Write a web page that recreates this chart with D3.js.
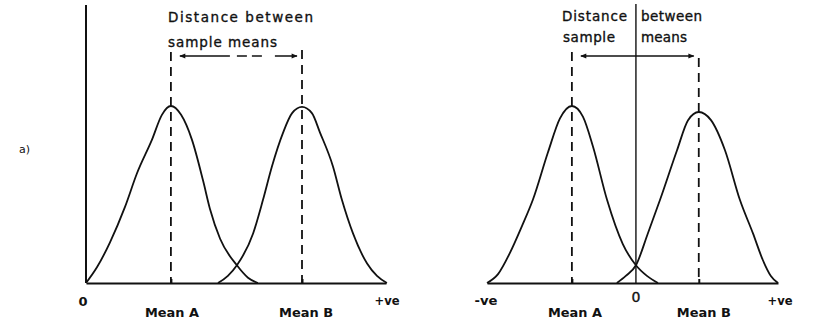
<!DOCTYPE html>
<html>
<head>
<meta charset="utf-8">
<script src="https://cdn.jsdelivr.net/npm/d3@7/dist/d3.min.js"></script>
<style>
  body { margin: 0; background: #fff; }
  svg { display: block; }
  text { font-family: "DejaVu Sans", sans-serif; fill: #111; }
  text.title { stroke: #111; stroke-width: 0.35px; }
</style>
</head>
<body>
<svg id="chart" width="813" height="323"></svg>
<script>
// ---- Panel (a): both sample means lie above zero ----
const panelALabel = "a)";
const leftAxisLabels = ["0", "+ve"];
const leftMeanLabels = ["Mean A", "Mean B"];
const leftTitle = ["Distance between", "sample means"];
const leftMeans = [2.83, 7.2];
const leftExtent = [0, 10];
// density curves as [x, relative height]
const leftCurveA = [
  [0.00, 0], [0.37, 0.09], [0.80, 0.23], [1.30, 0.43], [1.70, 0.62],
  [2.20, 0.81], [2.53, 0.95], [2.83, 1.00], [3.17, 0.95], [3.53, 0.81],
  [3.90, 0.58], [4.13, 0.42], [4.47, 0.25], [5.03, 0.10], [5.40, 0.03], [5.73, 0]
];
const leftCurveB = [
  [4.40, 0], [4.73, 0.04], [5.03, 0.10], [5.57, 0.28], [5.90, 0.47],
  [6.20, 0.66], [6.57, 0.85], [6.87, 0.96], [7.20, 0.995], [7.53, 0.96],
  [7.80, 0.85], [8.23, 0.66], [8.53, 0.47], [8.90, 0.28], [9.37, 0.11],
  [9.70, 0.04], [10.03, 0]
];

// ---- Panel (b): the means straddle zero ----
const rightAxisLabels = ["-ve", "0", "+ve"];
const rightMeanLabels = ["Mean A", "Mean B"];
const rightTitle = [["Distance", "between"], ["sample", "means"]];
const rightMeans = [-2.15, 2.11];
const rightExtent = [-5, 4.77];
const rightCurveA = [
  [-5.00, 0], [-4.63, 0.05], [-4.23, 0.17], [-3.83, 0.32], [-3.46, 0.47],
  [-2.95, 0.74], [-2.55, 0.93], [-2.15, 1.00], [-1.78, 0.94], [-1.44, 0.77],
  [-0.97, 0.47], [-0.44, 0.22], [0.00, 0.10], [0.37, 0.04], [0.74, 0]
];
const rightCurveB = [
  [-0.64, 0], [-0.34, 0.04], [0.00, 0.10], [0.40, 0.28], [0.81, 0.47],
  [1.38, 0.75], [1.75, 0.92], [2.11, 0.966], [2.52, 0.92], [2.99, 0.75],
  [3.49, 0.47], [3.93, 0.28], [4.26, 0.13], [4.53, 0.04], [4.77, 0]
];

const svg = d3.select("#chart");
const ink = "#111";

const y = d3.scaleLinear().domain([0, 1]).range([283, 106]);
const xL = d3.scaleLinear().domain(leftExtent).range([86, 386]);
const xR = d3.scaleLinear().domain(rightExtent).range([487, 778]);

// arrowheads for the "distance" indicator
const defs = svg.append("defs");
["start", "end"].forEach(k => {
  defs.append("marker")
    .attr("id", "head-" + k)
    .attr("viewBox", "0 0 10 10")
    .attr("refX", k === "end" ? 9 : 1).attr("refY", 5)
    .attr("markerWidth", 7).attr("markerHeight", 6)
    .attr("markerUnits", "userSpaceOnUse")
    .attr("orient", "auto")
    .append("path")
    .attr("d", k === "end" ? "M0,1 L10,5 L0,9 Z" : "M10,1 L0,5 L10,9 Z")
    .attr("fill", ink);
});

// monotone interpolation keeps the peaks rounded and the tails smooth
const line = x => d3.line()
  .x(d => x(d[0])).y(d => y(d[1]))
  .curve(d3.curveMonotoneX);

function drawPanel(g, x, opts) {
  // baseline with small ticks under each mean
  const axis = d3.axisBottom(x)
    .tickValues(opts.means).tickSize(-4).tickSizeOuter(0).tickFormat("");
  const ax = g.append("g").attr("transform", `translate(0,${y(0)})`).call(axis);
  ax.select(".domain").attr("stroke", ink).attr("stroke-width", 2);
  ax.selectAll(".tick line").attr("stroke", ink).attr("stroke-width", 2);

  // vertical axis through zero
  g.append("line")
    .attr("x1", x(0)).attr("x2", x(0))
    .attr("y1", opts.axisTop).attr("y2", y(0))
    .attr("stroke", ink).attr("stroke-width", opts.axisWidth);

  // dashed guides from each mean up to the distance arrow
  opts.means.forEach((m, i) => {
    g.append("line")
      .attr("x1", x(m)).attr("x2", x(m))
      .attr("y1", opts.guideTop[i]).attr("y2", y(0))
      .attr("stroke", ink).attr("stroke-width", 1.8)
      .attr("stroke-dasharray", "9,6");
  });

  // the two sampling distributions
  [opts.curveA, opts.curveB].forEach(c => {
    g.append("path").datum(c)
      .attr("d", line(x))
      .attr("fill", "none").attr("stroke", ink).attr("stroke-width", 1.8);
  });

  // distance arrow between the means
  g.append("line")
    .attr("x1", x(opts.means[0]) + 9).attr("x2", x(opts.means[1]) - 5)
    .attr("y1", 56).attr("y2", 56)
    .attr("stroke", ink).attr("stroke-width", 1.6)
    .attr("stroke-dasharray", opts.arrowDash)
    .attr("marker-start", "url(#head-start)")
    .attr("marker-end", "url(#head-end)");

  // mean labels
  opts.meanLabels.forEach((t, i) => {
    g.append("text")
      .attr("x", x(opts.means[i]) + opts.meanDx[i]).attr("y", 317)
      .attr("text-anchor", "middle")
      .attr("font-size", 13).attr("font-weight", "bold")
      .attr("textLength", 54).attr("lengthAdjust", "spacingAndGlyphs")
      .text(t);
  });
}

// panel (a)
const gL = svg.append("g");
drawPanel(gL, xL, {
  means: leftMeans, curveA: leftCurveA, curveB: leftCurveB,
  axisTop: 5, axisWidth: 2, guideTop: [52, 50],
  arrowDash: "50,7,10,5,10,13,40", meanLabels: leftMeanLabels, meanDx: [1, 4]
});
gL.append("text").attr("x", xL(0) - 3).attr("y", 306).attr("text-anchor", "middle")
  .attr("font-size", 13).attr("font-weight", "bold").text(leftAxisLabels[0]);
gL.append("text").attr("x", xL(10) + 1).attr("y", 305).attr("text-anchor", "middle")
  .attr("font-size", 12).attr("font-weight", "bold")
  .attr("textLength", 25).attr("lengthAdjust", "spacingAndGlyphs").text(leftAxisLabels[1]);
gL.append("text").attr("class", "title").attr("x", 168).attr("y", 22).attr("font-size", 13.5)
  .attr("textLength", 145).attr("lengthAdjust", "spacing").text(leftTitle[0]);
gL.append("text").attr("class", "title").attr("x", 168).attr("y", 47).attr("font-size", 13.5)
  .attr("textLength", 109).attr("lengthAdjust", "spacing").text(leftTitle[1]);

// panel label
svg.append("text").attr("x", 19).attr("y", 153).attr("font-size", 11)
  .text(panelALabel);

// panel (b)
const gR = svg.append("g");
drawPanel(gR, xR, {
  means: rightMeans, curveA: rightCurveA, curveB: rightCurveB,
  axisTop: 4, axisWidth: 1.4, guideTop: [52, 58],
  arrowDash: null, meanLabels: rightMeanLabels, meanDx: [3, 5]
});
gR.append("text").attr("x", xR(-5) - 1).attr("y", 305).attr("text-anchor", "middle")
  .attr("font-size", 12).attr("font-weight", "bold")
  .attr("textLength", 23).attr("lengthAdjust", "spacingAndGlyphs").text(rightAxisLabels[0]);
gR.append("text").attr("class", "title").attr("x", xR(0)).attr("y", 302).attr("text-anchor", "middle")
  .attr("font-size", 14).text(rightAxisLabels[1]);
gR.append("text").attr("x", xR(4.77) + 2).attr("y", 305).attr("text-anchor", "middle")
  .attr("font-size", 12).attr("font-weight", "bold")
  .attr("textLength", 25).attr("lengthAdjust", "spacingAndGlyphs").text(rightAxisLabels[2]);
const titlePos = [[562, 641], [563, 641]];
const titleLen = [[65, 61], [52, 46]];
const titleY = [21, 42];
rightTitle.forEach((row, r) => {
  row.forEach((t, c) => {
    gR.append("text").attr("class", "title")
      .attr("x", titlePos[r][c]).attr("y", titleY[r])
      .attr("font-size", 13.5)
      .attr("textLength", titleLen[r][c]).attr("lengthAdjust", "spacing")
      .text(t);
  });
});
</script>
</body>
</html>
